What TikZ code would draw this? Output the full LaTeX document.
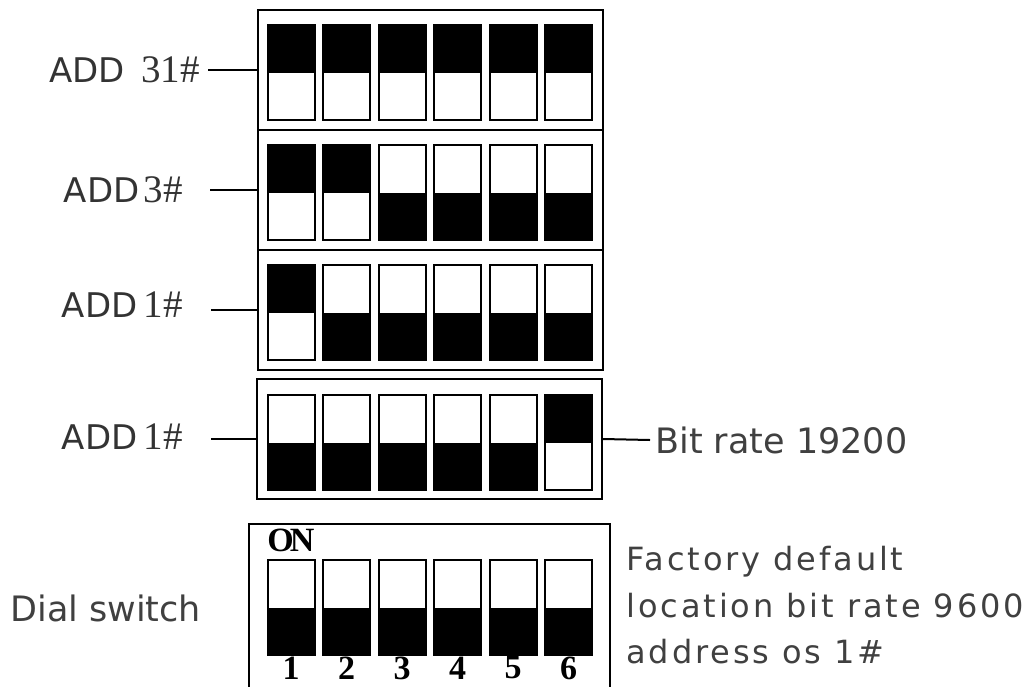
\documentclass[tikz,border=0pt]{standalone}
\usepackage{fontspec}
\setmainfont{Liberation Serif}
\newfontfamily\sansfont{DejaVu Sans}
\usetikzlibrary{positioning}

\tikzset{
  bank/.style={draw, line width=1.2pt, minimum width=172.5pt, minimum height=60pt, inner sep=0pt},
  dip/.style={draw, line width=1pt, minimum width=23.5pt, minimum height=47.5pt, inner sep=0pt},
  dip1/.style={dip, path picture={\fill (path picture bounding box.north west) rectangle (path picture bounding box.east);}},
  dip0/.style={dip, path picture={\fill (path picture bounding box.west) rectangle (path picture bounding box.south east);}},
  addlabel/.style={anchor=east, inner sep=0pt, text=black!80, font=\fontsize{19.5}{20}\selectfont},
  wire/.style={line width=1pt},
  note/.style={anchor=west, inner sep=0pt, text=black!75, font=\sansfont\fontsize{17.5}{20}\selectfont},
  small note/.style={anchor=base west, inner sep=0pt, text=black!75, font=\sansfont\fontsize{16}{20}\selectfont\addfontfeature{LetterSpace=9}},
  digit/.style={inner sep=0pt, font=\bfseries\fontsize{17}{20}\selectfont},
}
\newcommand{\addword}{{\sansfont\fontsize{17}{20}\selectfont ADD}}

\begin{document}
\begin{tikzpicture}[x=0.5pt, y=-0.5pt]
  \clip (0,0) rectangle (1026,686);

  % the four banks of the table
  \node[bank] (bank1) at (430.5,70) {};
  \node[bank] (bank2) at (430.5,190) {};
  \node[bank] (bank3) at (430.5,310) {};
  \node[bank] (bank4) at (429.5,439) {};

  % switches, 1 = upper half black
  \foreach \r/\yy/\states in {1/72.5/{1,1,1,1,1,1}, 2/192.5/{1,1,0,0,0,0},
                              3/312.5/{1,0,0,0,0,0}, 4/442.5/{0,0,0,0,0,1},
                              5/607.5/{0,0,0,0,0,0}}{
    \foreach \s [count=\i] in \states
      \node[dip\s] (sw\r-\i) at ({291+55.5*(\i-1)},\yy) {};
  }

  % labels on the left
  \node[addlabel] (add1) at (200,70) {\addword\hspace{8pt}31\#};
  \node[addlabel] (add2) at (183,190) {\addword\hspace{2pt}3\#};
  \node[addlabel] (add3) at (183,305) {\addword\hspace{3pt}1\#};
  \node[addlabel] (add4) at (183,437) {\addword\hspace{3pt}1\#};

  \draw[wire] ([xshift=4pt]add1.east |- bank1.west) -- (bank1.west);
  \draw[wire] ([xshift=13.5pt]add2.east |- bank2.west) -- (bank2.west);
  \draw[wire] ([xshift=14pt]add3.east |- bank3.west) -- (bank3.west);
  \draw[wire] ([xshift=14pt]add4.east |- bank4.west) -- (bank4.west);

  \node[note, inner xsep=2.5pt] (rate) at (650,440) {Bit rate 19200};
  \draw[wire] (bank4.east) -- (rate.west);

  % dial switch
  \node[bank, minimum width=180.5pt, minimum height=100pt] (dial) at (429.5,624) {};
  \node[anchor=north west, inner sep=0pt, font=\bfseries\fontsize{17}{20}\selectfont] (on) at (267,529) {O\kern-2ptN};
  \foreach \i in {1,...,6}
    \node[digit] (num\i) at ({291+55.5*(\i-1)},668) {\i};

  \node[note] (dialtext) at (10,608) {Dial switch};
  \node[small note] (fd1) at (626,570) {Factory default};
  \node[small note] (fd2) at (626,617) {location bit rate 9600};
  \node[small note] (fd3) at (626,663) {address os 1\#};
\end{tikzpicture}
\end{document}
